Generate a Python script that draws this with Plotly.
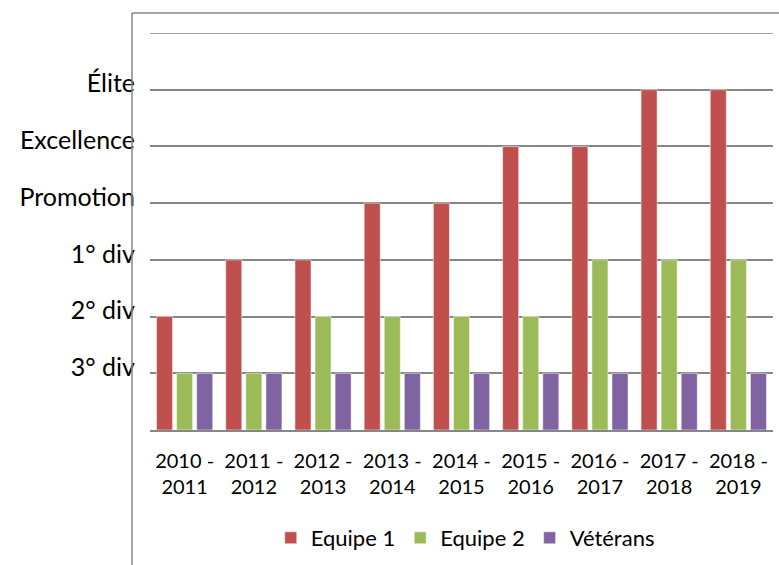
import plotly.graph_objects as go

seasons = ["2010 -<br>2011", "2011 -<br>2012", "2012 -<br>2013", "2013 -<br>2014", "2014 -<br>2015",
           "2015 -<br>2016", "2016 -<br>2017", "2017 -<br>2018", "2018 -<br>2019"]
equipe1 = [2, 3, 3, 4, 4, 5, 5, 6, 6]
equipe2 = [1, 1, 2, 2, 2, 2, 3, 3, 3]
veterans = [1, 1, 1, 1, 1, 1, 1, 1, 1]
level_vals = [1, 2, 3, 4, 5, 6]
level_names = ["3° div", "2° div", "1° div", "Promotion", "Excellence", "Élite"]

FONT = "Lato, 'Open Sans', sans-serif"
fig = go.Figure()
for name, vals, col in [("Equipe 1", equipe1, "#C0504D"),
                        ("Equipe 2", equipe2, "#9BBB59"),
                        ("Vétérans", veterans, "#8064A2")]:
    fig.add_trace(go.Bar(x=seasons, y=vals, name=name, marker_color=col,
                         marker_line_color="rgba(255,255,255,0.5)", marker_line_width=1))

fig.update_layout(
    width=779, height=565,
    margin=dict(l=150, r=6, t=33, b=135),
    paper_bgcolor="white", plot_bgcolor="white",
    barmode="group", bargap=0.13, bargroupgap=0.2,
    font=dict(family=FONT, color="black"),
    showlegend=True,
    legend=dict(orientation="h", x=0.506, xanchor="center", y=-0.272, yanchor="middle",
                font=dict(size=22), itemwidth=30, traceorder="normal"),
    xaxis=dict(showgrid=False, showline=True, linecolor="#868686", linewidth=1.5,
               tickfont=dict(size=20), ticks="", ticklabelstandoff=12, fixedrange=True),
    yaxis=dict(range=[0, 7], tickvals=level_vals, ticktext=level_names,
               showgrid=True, gridcolor="#868686", gridwidth=1.5,
               tickfont=dict(size=25), ticklabelstandoff=14, ticklabelshift=-6,
               zeroline=False, showline=False, ticks=""),
    shapes=[
        dict(type="line", xref="paper", yref="paper", x0=-0.0289, x1=-0.0289, y0=1.0504, y1=-0.35,
             line=dict(color="#868686", width=1.5)),
        dict(type="line", xref="paper", yref="paper", x0=-0.0289, x1=1.02, y0=1.0504, y1=1.0504,
             line=dict(color="#868686", width=1.5)),
        dict(type="line", xref="paper", yref="y", x0=0, x1=1, y0=7, y1=7,
             line=dict(color="#868686", width=1.5)),
    ],
)
fig.write_html("out.html", config={"displayModeBar": False},
               post_script="document.body.style.margin='0';")
